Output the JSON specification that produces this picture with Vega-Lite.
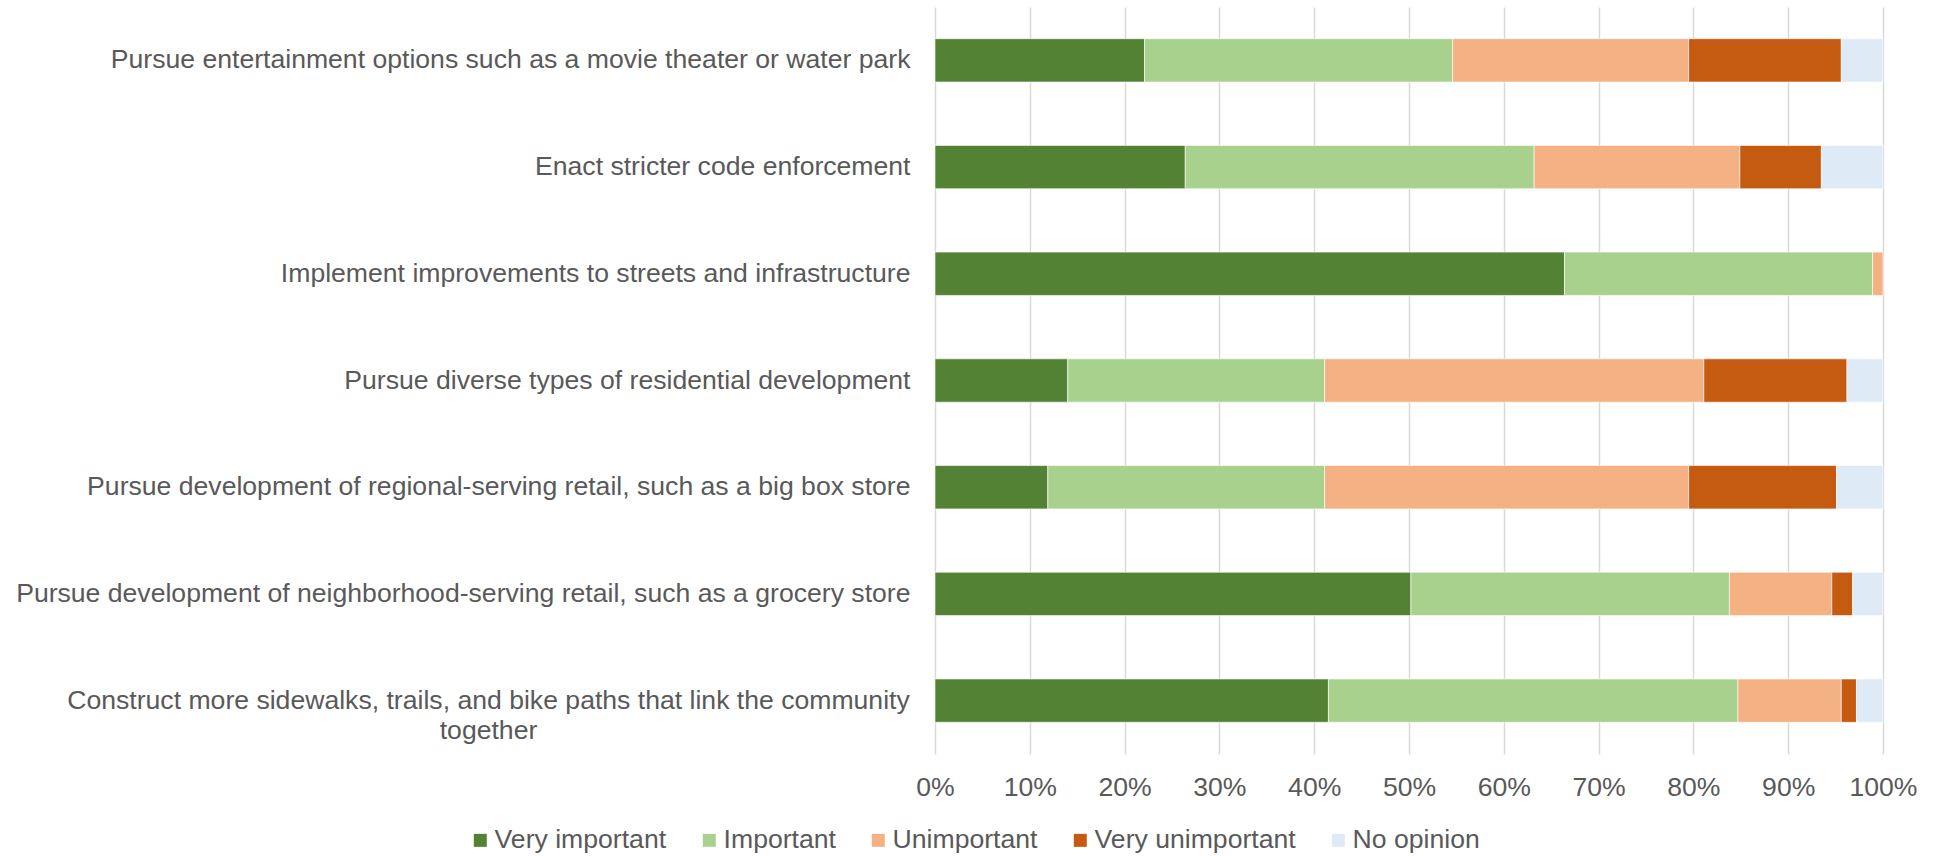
{
  "$schema": "https://vega.github.io/schema/vega-lite/v6.json",
  "width": 948,
  "height": 747,
  "autosize": "none",
  "padding": {"left": 935, "top": 7, "right": 51, "bottom": 102},
  "background": "white",
  "config": {
    "view": {"stroke": null},
    "font": "Liberation Sans"
  },
  "data": {
    "values": [
      {"item": "Pursue entertainment options such as a movie theater or water park", "response": "Very important", "value": 22.1},
      {"item": "Pursue entertainment options such as a movie theater or water park", "response": "Important", "value": 32.5},
      {"item": "Pursue entertainment options such as a movie theater or water park", "response": "Unimportant", "value": 24.9},
      {"item": "Pursue entertainment options such as a movie theater or water park", "response": "Very unimportant", "value": 16.1},
      {"item": "Pursue entertainment options such as a movie theater or water park", "response": "No opinion", "value": 4.4},
      {"item": "Enact stricter code enforcement", "response": "Very important", "value": 26.4},
      {"item": "Enact stricter code enforcement", "response": "Important", "value": 36.8},
      {"item": "Enact stricter code enforcement", "response": "Unimportant", "value": 21.7},
      {"item": "Enact stricter code enforcement", "response": "Very unimportant", "value": 8.6},
      {"item": "Enact stricter code enforcement", "response": "No opinion", "value": 6.5},
      {"item": "Implement improvements to streets and infrastructure", "response": "Very important", "value": 66.4},
      {"item": "Implement improvements to streets and infrastructure", "response": "Important", "value": 32.5},
      {"item": "Implement improvements to streets and infrastructure", "response": "Unimportant", "value": 1.1},
      {"item": "Pursue diverse types of residential development", "response": "Very important", "value": 14.0},
      {"item": "Pursue diverse types of residential development", "response": "Important", "value": 27.1},
      {"item": "Pursue diverse types of residential development", "response": "Unimportant", "value": 40.0},
      {"item": "Pursue diverse types of residential development", "response": "Very unimportant", "value": 15.1},
      {"item": "Pursue diverse types of residential development", "response": "No opinion", "value": 3.8},
      {"item": "Pursue development of regional-serving retail, such as a big box store", "response": "Very important", "value": 11.9},
      {"item": "Pursue development of regional-serving retail, such as a big box store", "response": "Important", "value": 29.2},
      {"item": "Pursue development of regional-serving retail, such as a big box store", "response": "Unimportant", "value": 38.4},
      {"item": "Pursue development of regional-serving retail, such as a big box store", "response": "Very unimportant", "value": 15.6},
      {"item": "Pursue development of regional-serving retail, such as a big box store", "response": "No opinion", "value": 4.9},
      {"item": "Pursue development of neighborhood-serving retail, such as a grocery store", "response": "Very important", "value": 50.2},
      {"item": "Pursue development of neighborhood-serving retail, such as a grocery store", "response": "Important", "value": 33.6},
      {"item": "Pursue development of neighborhood-serving retail, such as a grocery store", "response": "Unimportant", "value": 10.8},
      {"item": "Pursue development of neighborhood-serving retail, such as a grocery store", "response": "Very unimportant", "value": 2.2},
      {"item": "Pursue development of neighborhood-serving retail, such as a grocery store", "response": "No opinion", "value": 3.2},
      {"item": "Construct more sidewalks, trails, and bike paths that link the community together", "response": "Very important", "value": 41.5},
      {"item": "Construct more sidewalks, trails, and bike paths that link the community together", "response": "Important", "value": 43.2},
      {"item": "Construct more sidewalks, trails, and bike paths that link the community together", "response": "Unimportant", "value": 10.9},
      {"item": "Construct more sidewalks, trails, and bike paths that link the community together", "response": "Very unimportant", "value": 1.6},
      {"item": "Construct more sidewalks, trails, and bike paths that link the community together", "response": "No opinion", "value": 2.8}
    ]
  },
  "transform": [
    {"calculate": "indexof(['Very important', 'Important', 'Unimportant', 'Very unimportant', 'No opinion'], datum.response)", "as": "rank"}
  ],
  "mark": {"type": "bar", "stroke": "white", "strokeWidth": 0.6},
  "encoding": {
    "y": {
      "field": "item",
      "type": "nominal",
      "sort": null,
      "scale": {"paddingInner": 0.594, "paddingOuter": 0.297},
      "axis": {
        "title": null,
        "domain": false,
        "ticks": false,
        "tickSize": 0,
        "grid": false,
        "labelFont": "Liberation Sans",
        "labelFontSize": 26.6,
        "labelColor": "#595959",
        "labelLimit": 2000,
        "labelLineHeight": 30,
        "labelBaseline": "middle",
        "labelExpr": "indexof(datum.value, 'Construct') == 0 ? ['Construct more sidewalks, trails, and bike paths that link the community', 'together'] : datum.label",
        "labelAlign": {"condition": {"test": "indexof(datum.value, 'Construct') == 0", "value": "center"}, "value": "right"},
        "labelPadding": {"condition": {"test": "indexof(datum.value, 'Construct') == 0", "value": 447}, "value": 25}
      }
    },
    "x": {
      "field": "value",
      "type": "quantitative",
      "stack": "normalize",
      "scale": {"domain": [0, 1]},
      "axis": {
        "title": null,
        "domain": false,
        "ticks": false,
        "tickSize": 0,
        "grid": true,
        "gridColor": "#d9d9d9",
        "gridWidth": 1.5,
        "values": [0, 0.1, 0.2, 0.3, 0.4, 0.5, 0.6, 0.7, 0.8, 0.9, 1],
        "format": ".0%",
        "labelFont": "Liberation Sans",
        "labelFontSize": 26.6,
        "labelColor": "#595959",
        "labelPadding": 20,
        "labelFlush": false,
        "labelOverlap": false
      }
    },
    "order": {"field": "rank", "type": "quantitative", "sort": "ascending"},
    "color": {
      "field": "response",
      "type": "nominal",
      "sort": ["Very important", "Important", "Unimportant", "Very unimportant", "No opinion"],
      "scale": {
        "domain": ["Very important", "Important", "Unimportant", "Very unimportant", "No opinion"],
        "range": ["#548235", "#A9D18E", "#F4B183", "#C55A11", "#DEEBF7"]
      },
      "legend": {
        "title": null,
        "orient": "none",
        "direction": "horizontal",
        "legendX": -468,
        "legendY": 820,
        "padding": 0,
        "symbolType": "square",
        "symbolSize": 169,
        "symbolStrokeWidth": 0,
        "labelFont": "Liberation Sans",
        "labelFontSize": 26.6,
        "labelColor": "#595959",
        "labelLimit": 400,
        "labelOffset": 1,
        "columnPadding": 29
      }
    }
  }
}
